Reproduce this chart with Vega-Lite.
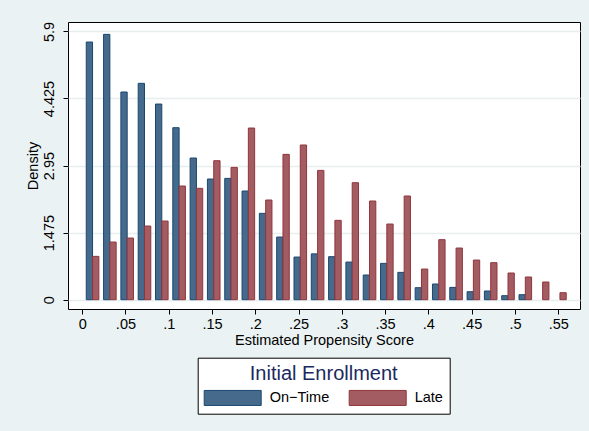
{
  "$schema": "https://vega.github.io/schema/vega-lite/v6.json",
  "autosize": "none",
  "width": 512,
  "height": 287,
  "padding": {"left": 68, "top": 22, "right": 9, "bottom": 122},
  "background": "#eaf2f3",
  "config": {
    "font": "Liberation Sans",
    "view": {"fill": "white", "stroke": "black", "strokeWidth": 1},
    "axis": {
      "domain": false,
      "tickColor": "black",
      "tickSize": 5,
      "labelColor": "black",
      "labelFontSize": 14.5,
      "titleColor": "black",
      "titleFontSize": 14.5,
      "titleFontWeight": "normal",
      "labelFont": "Liberation Sans",
      "titleFont": "Liberation Sans"
    },
    "legend": {
      "labelFont": "Liberation Sans",
      "titleFont": "Liberation Sans"
    }
  },
  "data": {
    "values": [
      {"ps": 0.012, "group": "On−Time", "density": 5.667},
      {"ps": 0.012, "group": "Late", "density": 0.953},
      {"ps": 0.032, "group": "On−Time", "density": 5.835},
      {"ps": 0.032, "group": "Late", "density": 1.268},
      {"ps": 0.052, "group": "On−Time", "density": 4.567},
      {"ps": 0.052, "group": "Late", "density": 1.356},
      {"ps": 0.072, "group": "On−Time", "density": 4.758},
      {"ps": 0.072, "group": "Late", "density": 1.62},
      {"ps": 0.092, "group": "On−Time", "density": 4.303},
      {"ps": 0.092, "group": "Late", "density": 1.73},
      {"ps": 0.112, "group": "On−Time", "density": 3.783},
      {"ps": 0.112, "group": "Late", "density": 2.5},
      {"ps": 0.132, "group": "On−Time", "density": 3.116},
      {"ps": 0.132, "group": "Late", "density": 2.449},
      {"ps": 0.152, "group": "On−Time", "density": 2.654},
      {"ps": 0.152, "group": "Late", "density": 3.057},
      {"ps": 0.172, "group": "On−Time", "density": 2.668},
      {"ps": 0.172, "group": "Late", "density": 2.91},
      {"ps": 0.192, "group": "On−Time", "density": 2.39},
      {"ps": 0.192, "group": "Late", "density": 3.775},
      {"ps": 0.212, "group": "On−Time", "density": 1.899},
      {"ps": 0.212, "group": "Late", "density": 2.192},
      {"ps": 0.232, "group": "On−Time", "density": 1.378},
      {"ps": 0.232, "group": "Late", "density": 3.196},
      {"ps": 0.252, "group": "On−Time", "density": 0.938},
      {"ps": 0.252, "group": "Late", "density": 3.402},
      {"ps": 0.272, "group": "On−Time", "density": 1.008},
      {"ps": 0.272, "group": "Late", "density": 2.844},
      {"ps": 0.292, "group": "On−Time", "density": 0.946},
      {"ps": 0.292, "group": "Late", "density": 1.745},
      {"ps": 0.312, "group": "On−Time", "density": 0.828},
      {"ps": 0.312, "group": "Late", "density": 2.573},
      {"ps": 0.332, "group": "On−Time", "density": 0.543},
      {"ps": 0.332, "group": "Late", "density": 2.17},
      {"ps": 0.352, "group": "On−Time", "density": 0.799},
      {"ps": 0.352, "group": "Late", "density": 1.664},
      {"ps": 0.372, "group": "On−Time", "density": 0.601},
      {"ps": 0.372, "group": "Late", "density": 2.28},
      {"ps": 0.392, "group": "On−Time", "density": 0.264},
      {"ps": 0.392, "group": "Late", "density": 0.674},
      {"ps": 0.412, "group": "On−Time", "density": 0.345},
      {"ps": 0.412, "group": "Late", "density": 1.32},
      {"ps": 0.432, "group": "On−Time", "density": 0.271},
      {"ps": 0.432, "group": "Late", "density": 1.136},
      {"ps": 0.452, "group": "On−Time", "density": 0.176},
      {"ps": 0.452, "group": "Late", "density": 0.872},
      {"ps": 0.472, "group": "On−Time", "density": 0.191},
      {"ps": 0.472, "group": "Late", "density": 0.814},
      {"ps": 0.492, "group": "On−Time", "density": 0.088},
      {"ps": 0.492, "group": "Late", "density": 0.587},
      {"ps": 0.512, "group": "On−Time", "density": 0.11},
      {"ps": 0.512, "group": "Late", "density": 0.499},
      {"ps": 0.532, "group": "On−Time", "density": 0},
      {"ps": 0.532, "group": "Late", "density": 0.389},
      {"ps": 0.552, "group": "On−Time", "density": 0},
      {"ps": 0.552, "group": "Late", "density": 0.154}
    ]
  },
  "encoding": {
    "x": {
      "field": "ps",
      "type": "quantitative",
      "title": "Estimated Propensity Score",
      "scale": {"domain": [-0.0106, 0.5694], "nice": false, "zero": false},
      "axis": {
        "values": [0, 0.05, 0.1, 0.15, 0.2, 0.25, 0.3, 0.35, 0.4, 0.45, 0.5, 0.55],
        "labelExpr": "replace(format(datum.value, '~g'), '0.', '.')",
        "grid": false,
        "labelPadding": 3,
        "titlePadding": 3
      }
    },
    "y": {
      "field": "density",
      "type": "quantitative",
      "title": "Density",
      "scale": {"domain": [-0.2045, 6.107], "nice": false, "zero": false},
      "axis": {
        "values": [0, 1.475, 2.95, 4.425, 5.9],
        "labelExpr": "'' + datum.value",
        "labelAngle": -90,
        "labelAlign": "center",
        "labelBaseline": "bottom",
        "labelPadding": 7,
        "titlePadding": 1,
        "grid": true,
        "gridColor": "#e6eef0",
        "gridWidth": 1.3
      }
    },
    "y2": {"datum": 0},
    "fill": {
      "field": "group",
      "type": "nominal",
      "scale": {"domain": ["On−Time", "Late"], "range": ["#466a8c", "#a45c63"]},
      "legend": {
        "title": "Initial Enrollment",
        "orient": "none",
        "legendX": 129.7,
        "legendY": 335.7,
        "direction": "horizontal",
        "columns": 2,
        "padding": 6,
        "fillColor": "white",
        "strokeColor": "black",
        "titleFontSize": 20,
        "titleFontWeight": "normal",
        "titleColor": "#1a2a5e",
        "titleAnchor": "middle",
        "titlePadding": 6,
        "labelFontSize": 14.5,
        "labelColor": "black",
        "labelOffset": 50,
        "columnPadding": 17,
        "symbolType": "M-1,-1H6.6V1H-1Z",
        "symbolSize": 225,
        "symbolStrokeWidth": 1
      }
    },
    "stroke": {
      "field": "group",
      "type": "nominal",
      "scale": {"domain": ["On−Time", "Late"], "range": ["#1a476f", "#90353b"]},
      "legend": {
        "title": "Initial Enrollment",
        "orient": "none",
        "legendX": 129.7,
        "legendY": 335.7,
        "direction": "horizontal",
        "columns": 2,
        "padding": 6,
        "fillColor": "white",
        "strokeColor": "black",
        "titleFontSize": 20,
        "titleFontWeight": "normal",
        "titleColor": "#1a2a5e",
        "titleAnchor": "middle",
        "titlePadding": 6,
        "labelFontSize": 14.5,
        "labelColor": "black",
        "labelOffset": 50,
        "columnPadding": 17,
        "symbolType": "M-1,-1H6.6V1H-1Z",
        "symbolSize": 225,
        "symbolStrokeWidth": 1
      }
    }
  },
  "layer": [
    {
      "transform": [{"filter": "datum.group == 'On−Time' && datum.density > 0"}],
      "mark": {"type": "bar", "orient": "vertical", "width": 6.3, "xOffset": -3.15, "strokeWidth": 1, "opacity": 1}
    },
    {
      "transform": [{"filter": "datum.group == 'Late'"}],
      "mark": {"type": "bar", "orient": "vertical", "width": 6.3, "xOffset": 3.15, "strokeWidth": 1, "opacity": 1}
    }
  ]
}
